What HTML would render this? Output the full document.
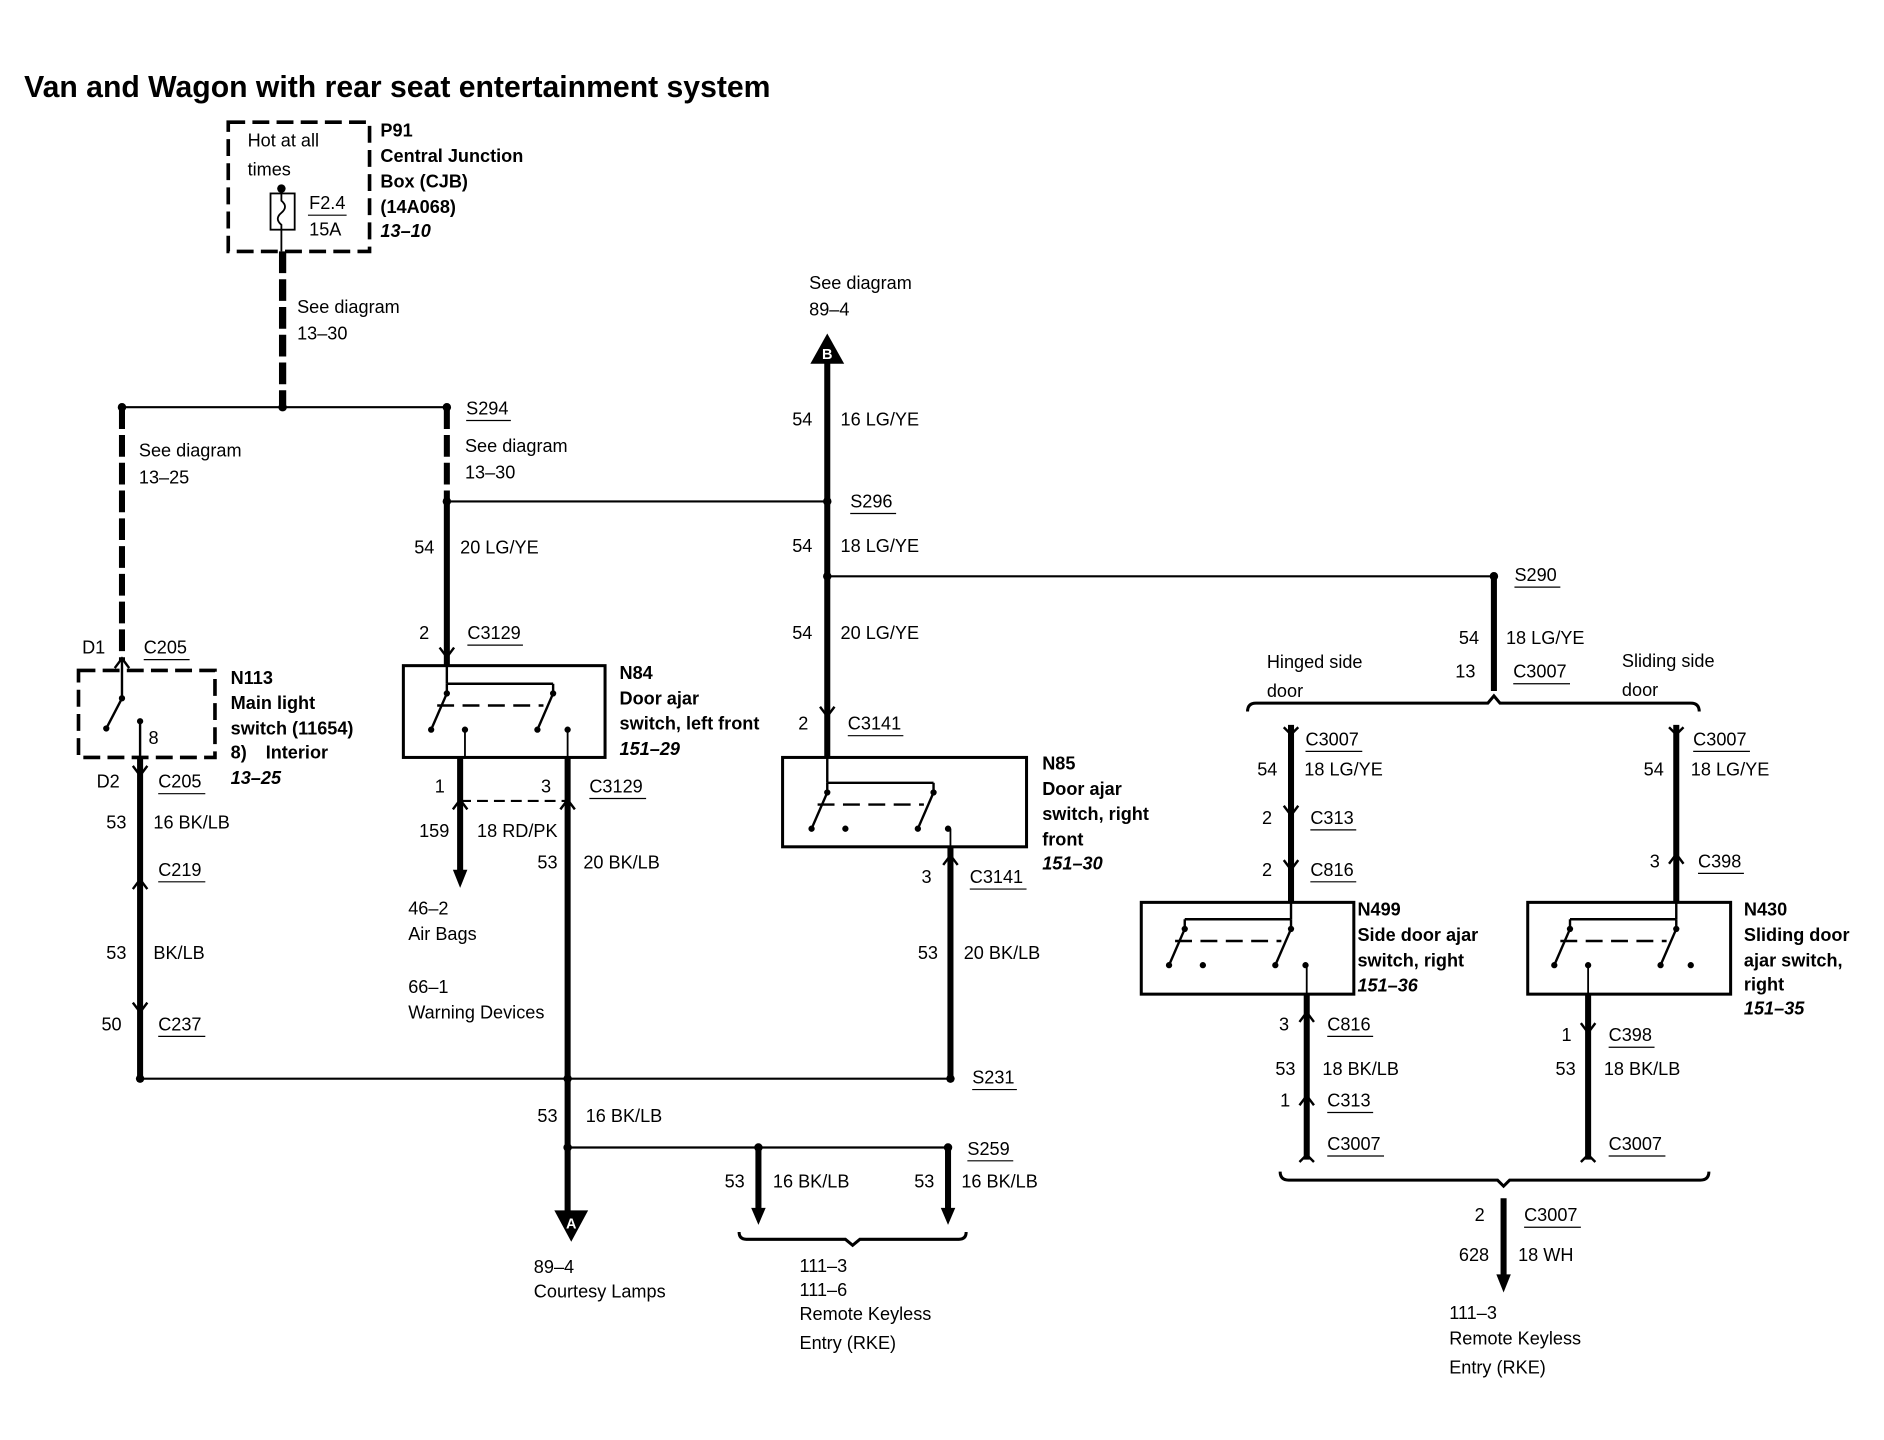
<!DOCTYPE html>
<html><head><meta charset="utf-8"><style>
html,body{margin:0;padding:0;background:#fff;}
svg{display:block;}
text{font-family:"Liberation Sans",Arial,sans-serif;font-size:15px;fill:#000;}
.b{font-weight:bold;}
.i{font-weight:bold;font-style:italic;}
.w{fill:#fff;font-weight:bold;font-size:12px;}
</style></head><body>
<svg width="1884" height="1440" viewBox="0 0 1560 1192" xmlns="http://www.w3.org/2000/svg">
<defs>
<g id="sw" stroke="#000" stroke-width="2" fill="none">
<line x1="0" y1="0" x2="88" y2="0"/>
<line x1="0" y1="0" x2="0" y2="8"/><line x1="88" y1="0" x2="88" y2="8"/>
<line x1="0" y1="8" x2="-13" y2="38"/><line x1="88" y1="8" x2="75" y2="38"/>
<line x1="-8" y1="18" x2="80" y2="18" stroke-dasharray="14,7"/>
<g fill="#000" stroke="none">
<circle cx="0" cy="8" r="2.6"/><circle cx="88" cy="8" r="2.6"/>
<circle cx="-13" cy="38" r="2.6"/><circle cx="15" cy="38" r="2.6"/>
<circle cx="75" cy="38" r="2.6"/><circle cx="100" cy="38" r="2.6"/>
</g></g>
</defs>

<text x="20" y="80" class="b" style="font-size:25px" textLength="618" lengthAdjust="spacingAndGlyphs">Van and Wagon with rear seat entertainment system</text>

<!-- P91 -->
<rect x="189" y="101" width="117" height="107" fill="none" stroke="#000" stroke-width="3" stroke-dasharray="14,6"/>
<text x="205" y="121">Hot at all</text><text x="205" y="145">times</text>
<rect x="224" y="160" width="20" height="30" fill="none" stroke="#000" stroke-width="1.5"/>
<circle cx="233" cy="156" r="3.5"/>
<path d="M233 156 V166 q6 5 0 10 q-6 5 0 10 V208" fill="none" stroke="#000" stroke-width="1.5"/>
<text x="256" y="173">F2.4</text><line x1="255" y1="178" x2="287" y2="178" stroke="#000" stroke-width="1"/>
<text x="256" y="195">15A</text>
<text x="315" y="113" class="b">P91</text>
<text x="315" y="134" class="b">Central Junction</text>
<text x="315" y="155" class="b">Box (CJB)</text>
<text x="315" y="176" class="b">(14A068)</text>
<text x="315" y="196" class="i">13–10</text>

<g stroke="#000" fill="none">
<line x1="234" y1="208" x2="234" y2="337" stroke-width="6" stroke-dasharray="18,5"/>
<line x1="101" y1="337" x2="370" y2="337" stroke-width="1.8"/>
<line x1="101" y1="337" x2="101" y2="548" stroke-width="5" stroke-dasharray="18,5"/>
<line x1="370" y1="337" x2="370" y2="415" stroke-width="5" stroke-dasharray="18,5"/>
<line x1="370" y1="415" x2="685" y2="415" stroke-width="1.8"/>
<line x1="370" y1="415" x2="370" y2="551" stroke-width="5"/>
<line x1="685" y1="300" x2="685" y2="627" stroke-width="5"/>
<line x1="685" y1="477" x2="1237" y2="477" stroke-width="1.8"/>
<line x1="1237" y1="477" x2="1237" y2="572" stroke-width="5"/>
<rect x="334" y="551" width="167" height="76" stroke-width="2.5"/>
<line x1="370" y1="551" x2="370" y2="566" stroke-width="2"/>
<line x1="385" y1="604" x2="385" y2="627" stroke-width="1.5"/>
<line x1="470" y1="604" x2="470" y2="627" stroke-width="1.5"/>
<line x1="381" y1="627" x2="381" y2="722" stroke-width="5"/>
<line x1="381" y1="663" x2="470" y2="663" stroke-width="1.8" stroke-dasharray="9,5"/>
<line x1="470" y1="627" x2="470" y2="1003" stroke-width="5"/>
<rect x="65" y="555" width="113" height="72" stroke-width="3" stroke-dasharray="14,6"/>
<line x1="101" y1="548" x2="101" y2="578" stroke-width="2"/>
<line x1="101" y1="578" x2="88" y2="603" stroke-width="2"/>
<line x1="116" y1="597" x2="116" y2="627" stroke-width="2"/>
<line x1="116" y1="627" x2="116" y2="893" stroke-width="5"/>
<line x1="116" y1="893" x2="787" y2="893" stroke-width="1.8"/>
<rect x="648" y="627" width="202" height="74" stroke-width="2.5"/>
<line x1="685" y1="627" x2="685" y2="648" stroke-width="2"/>
<line x1="787" y1="686" x2="787" y2="705" stroke-width="1.5"/>
<line x1="787" y1="701" x2="787" y2="893" stroke-width="5"/>
<line x1="470" y1="950" x2="785" y2="950" stroke-width="1.8"/>
<line x1="628" y1="950" x2="628" y2="1003" stroke-width="5"/>
<line x1="785" y1="950" x2="785" y2="1003" stroke-width="5"/>
<path d="M612 1020 Q612 1026 618 1026 H700 L706 1031 L712 1026 H794 Q800 1026 800 1020" stroke-width="2.5"/>
<path d="M1033 589 Q1033 582 1040 582 H1232 L1237 576 L1242 582 H1400 Q1407 582 1407 589" stroke-width="2.5"/>
<line x1="1069" y1="600" x2="1069" y2="747" stroke-width="5"/>
<line x1="1388" y1="600" x2="1388" y2="747" stroke-width="5"/>
<rect x="945" y="747" width="176" height="76" stroke-width="2.5"/>
<rect x="1265" y="747" width="168" height="76" stroke-width="2.5"/>
<line x1="1069" y1="747" x2="1069" y2="761" stroke-width="2"/>
<line x1="1388" y1="747" x2="1388" y2="761" stroke-width="2"/>
<line x1="1082" y1="799" x2="1082" y2="823" stroke-width="1.5"/>
<line x1="1315" y1="799" x2="1315" y2="823" stroke-width="1.5"/>
<line x1="1082" y1="823" x2="1082" y2="960" stroke-width="5"/>
<line x1="1315" y1="823" x2="1315" y2="960" stroke-width="5"/>
<path d="M1060 970 Q1060 977 1067 977 H1240 L1245 982 L1250 977 H1408 Q1415 977 1415 970" stroke-width="2.5"/>
<line x1="1245" y1="992" x2="1245" y2="1058" stroke-width="5"/>
<g stroke-width="2">
<path d="M364 536 L370 544 L376 536"/><path d="M679 585 L685 593 L691 585"/>
<path d="M95 553 L101 545 L107 553"/><path d="M110 634 L116 642 L122 634"/>
<path d="M110 736 L116 728 L122 736"/><path d="M110 830 L116 838 L122 830"/>
<path d="M375 670 L381 662 L387 670"/><path d="M464 670 L470 662 L476 670"/>
<path d="M781 716 L787 708 L793 716"/>
<path d="M1063 602 L1069 608 L1075 602"/><path d="M1063 667 L1069 675 L1075 667"/>
<path d="M1063 712 L1069 720 L1075 712"/>
<path d="M1382 602 L1388 608 L1394 602"/><path d="M1382 715 L1388 707 L1394 715"/>
<path d="M1076 846 L1082 838 L1088 846"/><path d="M1076 915 L1082 907 L1088 915"/>
<path d="M1076 962 L1082 956 L1088 962"/>
<path d="M1309 847 L1315 855 L1321 847"/><path d="M1309 962 L1315 956 L1321 962"/>
</g>
</g>
<use href="#sw" x="370" y="566"/>
<use href="#sw" x="685" y="648"/>
<use href="#sw" x="981" y="761"/>
<use href="#sw" x="1300" y="761"/>
<polygon points="375,720 381,735 387,720"/>
<polygon points="622,1000 628,1014 634,1000"/>
<polygon points="779,1000 785,1014 791,1000"/>
<polygon points="1239,1055 1245,1070 1251,1055"/>
<polygon points="685,276 671,301 699,301"/><text x="685" y="297" class="w" text-anchor="middle">B</text>
<polygon points="459,1002 487,1002 473,1028"/><text x="473" y="1017" class="w" text-anchor="middle">A</text>
<g>
<circle cx="101" cy="337" r="3.5"/><circle cx="234" cy="337" r="3.5"/><circle cx="370" cy="337" r="3.5"/>
<circle cx="370" cy="415" r="3.5"/><circle cx="685" cy="415" r="3.5"/><circle cx="685" cy="477" r="3.5"/>
<circle cx="1237" cy="477" r="3.5"/><circle cx="116" cy="893" r="3.5"/><circle cx="470" cy="893" r="3.5"/>
<circle cx="787" cy="893" r="3.5"/><circle cx="470" cy="950" r="3.5"/><circle cx="628" cy="950" r="3.5"/>
<circle cx="785" cy="950" r="3.5"/><circle cx="88" cy="603" r="2.6"/><circle cx="101" cy="578" r="2.6"/><circle cx="116" cy="597" r="2.6"/>
</g>
<g stroke="#000" stroke-width="1">
<line x1="386" y1="348" x2="423" y2="348"/><line x1="387" y1="534" x2="433" y2="534"/>
<line x1="704" y1="425" x2="742" y2="425"/><line x1="1254" y1="486" x2="1292" y2="486"/>
<line x1="1253" y1="566" x2="1300" y2="566"/><line x1="702" y1="609" x2="748" y2="609"/>
<line x1="119" y1="546" x2="157" y2="546"/><line x1="131" y1="657" x2="170" y2="657"/>
<line x1="131" y1="730" x2="170" y2="730"/><line x1="131" y1="858" x2="170" y2="858"/>
<line x1="488" y1="661" x2="535" y2="661"/><line x1="803" y1="736" x2="850" y2="736"/>
<line x1="805" y1="902" x2="842" y2="902"/><line x1="801" y1="961" x2="839" y2="961"/>
<line x1="1081" y1="622" x2="1128" y2="622"/><line x1="1085" y1="687" x2="1123" y2="687"/>
<line x1="1085" y1="730" x2="1123" y2="730"/><line x1="1402" y1="622" x2="1449" y2="622"/>
<line x1="1406" y1="723" x2="1444" y2="723"/><line x1="1099" y1="858" x2="1137" y2="858"/>
<line x1="1099" y1="921" x2="1137" y2="921"/><line x1="1099" y1="957" x2="1146" y2="957"/>
<line x1="1332" y1="867" x2="1370" y2="867"/><line x1="1332" y1="957" x2="1379" y2="957"/>
<line x1="1262" y1="1016" x2="1309" y2="1016"/>
</g>
<text x="246" y="259">See diagram</text><text x="246" y="281">13–30</text>
<text x="115" y="378">See diagram</text><text x="115" y="400">13–25</text>
<text x="386" y="343">S294</text><text x="385" y="374">See diagram</text><text x="385" y="396">13–30</text>
<text x="343" y="458">54</text><text x="381" y="458">20 LG/YE</text>
<text x="347" y="529">2</text><text x="387" y="529">C3129</text>
<text x="513" y="562" class="b">N84</text><text x="513" y="583" class="b">Door ajar</text>
<text x="513" y="604" class="b">switch, left front</text><text x="513" y="625" class="i">151–29</text>
<text x="360" y="656">1</text><text x="448" y="656">3</text><text x="488" y="656">C3129</text>
<text x="347" y="693">159</text><text x="395" y="693">18 RD/PK</text>
<text x="445" y="719">53</text><text x="483" y="719">20 BK/LB</text>
<text x="338" y="757">46–2</text><text x="338" y="778">Air Bags</text>
<text x="338" y="822">66–1</text><text x="338" y="843">Warning Devices</text>
<text x="68" y="541">D1</text><text x="119" y="541">C205</text>
<text x="191" y="566" class="b">N113</text><text x="191" y="587" class="b">Main light</text>
<text x="191" y="608" class="b">switch (11654)</text><text x="191" y="628" class="b">8)</text><text x="220" y="628" class="b">Interior</text>
<text x="191" y="649" class="i">13–25</text><text x="123" y="616">8</text>
<text x="80" y="652">D2</text><text x="131" y="652">C205</text>
<text x="88" y="686">53</text><text x="127" y="686">16 BK/LB</text>
<text x="131" y="725">C219</text>
<text x="88" y="794">53</text><text x="127" y="794">BK/LB</text>
<text x="84" y="853">50</text><text x="131" y="853">C237</text>
<text x="670" y="239">See diagram</text><text x="670" y="261">89–4</text>
<text x="656" y="352">54</text><text x="696" y="352">16 LG/YE</text>
<text x="704" y="420">S296</text>
<text x="656" y="457">54</text><text x="696" y="457">18 LG/YE</text>
<text x="656" y="529">54</text><text x="696" y="529">20 LG/YE</text>
<text x="661" y="604">2</text><text x="702" y="604">C3141</text>
<text x="863" y="637" class="b">N85</text><text x="863" y="658" class="b">Door ajar</text>
<text x="863" y="679" class="b">switch, right</text><text x="863" y="700" class="b">front</text>
<text x="863" y="720" class="i">151–30</text>
<text x="763" y="731">3</text><text x="803" y="731">C3141</text>
<text x="760" y="794">53</text><text x="798" y="794">20 BK/LB</text>
<text x="805" y="897">S231</text>
<text x="445" y="929">53</text><text x="485" y="929">16 BK/LB</text>
<text x="801" y="956">S259</text>
<text x="600" y="983">53</text><text x="640" y="983">16 BK/LB</text>
<text x="757" y="983">53</text><text x="796" y="983">16 BK/LB</text>
<text x="662" y="1053">111–3</text><text x="662" y="1073">111–6</text>
<text x="662" y="1093">Remote Keyless</text><text x="662" y="1117">Entry (RKE)</text>
<text x="442" y="1054">89–4</text><text x="442" y="1074">Courtesy Lamps</text>
<text x="1254" y="481">S290</text>
<text x="1208" y="533">54</text><text x="1247" y="533">18 LG/YE</text>
<text x="1205" y="561">13</text><text x="1253" y="561">C3007</text>
<text x="1049" y="553">Hinged side</text><text x="1049" y="577">door</text>
<text x="1343" y="552">Sliding side</text><text x="1343" y="576">door</text>
<text x="1081" y="617">C3007</text><text x="1041" y="642">54</text><text x="1080" y="642">18 LG/YE</text>
<text x="1045" y="682">2</text><text x="1085" y="682">C313</text>
<text x="1045" y="725">2</text><text x="1085" y="725">C816</text>
<text x="1124" y="758" class="b">N499</text><text x="1124" y="779" class="b">Side door ajar</text>
<text x="1124" y="800" class="b">switch, right</text><text x="1124" y="821" class="i">151–36</text>
<text x="1059" y="853">3</text><text x="1099" y="853">C816</text>
<text x="1056" y="890">53</text><text x="1095" y="890">18 BK/LB</text>
<text x="1060" y="916">1</text><text x="1099" y="916">C313</text>
<text x="1099" y="952">C3007</text>
<text x="1402" y="617">C3007</text><text x="1361" y="642">54</text><text x="1400" y="642">18 LG/YE</text>
<text x="1366" y="718">3</text><text x="1406" y="718">C398</text>
<text x="1444" y="758" class="b">N430</text><text x="1444" y="779" class="b">Sliding door</text>
<text x="1444" y="800" class="b">ajar switch,</text><text x="1444" y="820" class="b">right</text>
<text x="1444" y="840" class="i">151–35</text>
<text x="1293" y="862">1</text><text x="1332" y="862">C398</text>
<text x="1288" y="890">53</text><text x="1328" y="890">18 BK/LB</text>
<text x="1332" y="952">C3007</text>
<text x="1221" y="1011">2</text><text x="1262" y="1011">C3007</text>
<text x="1208" y="1044">628</text><text x="1257" y="1044">18 WH</text>
<text x="1200" y="1092">111–3</text><text x="1200" y="1113">Remote Keyless</text><text x="1200" y="1137">Entry (RKE)</text>
</svg>
</body></html>
